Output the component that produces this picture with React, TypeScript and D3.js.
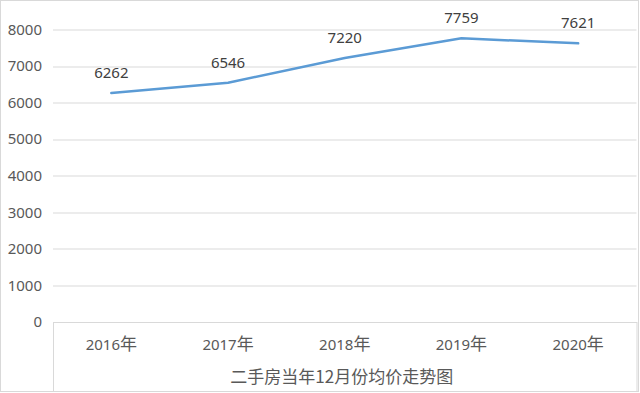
import React, { useRef, useEffect } from 'react';
import * as d3 from 'd3';

const years = ['2016', '2017', '2018', '2019', '2020'];
const yearSuffix = '年';
const prices = [6262, 6546, 7220, 7759, 7621];
const yTicks = [0, 1000, 2000, 3000, 4000, 5000, 6000, 7000, 8000];
const axisTitle = '二手房当年12月份均价走势图';

const App = () => {
  const svgRef = useRef<SVGSVGElement>(null);
  const width = 640;
  const height = 393;
  const margin = { top: 29.5, right: 3.5, bottom: 71, left: 53 };

  useEffect(() => {
    const svg = d3.select(svgRef.current);
    svg.selectAll('*').remove();

    const font = '"Noto Sans", "Noto Sans CJK SC", sans-serif';
    const cjkFont = '"Noto Sans CJK SC", sans-serif';
    const innerWidth = width - margin.left - margin.right;
    const innerHeight = height - margin.top - margin.bottom;

    // outer chart border
    svg.append('rect')
      .attr('x', 0.5).attr('y', 0.5)
      .attr('width', width - 2).attr('height', height - 2)
      .attr('fill', '#fff')
      .attr('stroke', '#d9d9d9');

    const xScale = d3.scaleBand()
      .domain(years)
      .range([0, innerWidth]);

    const yScale = d3.scaleLinear()
      .domain([0, 8000])
      .range([innerHeight, 0]);

    const g = svg.append('g')
      .attr('transform', `translate(${margin.left},${margin.top})`);

    // grid lines
    g.append('g')
      .selectAll('line')
      .data(yTicks.filter(d => d > 0))
      .join('line')
      .attr('x1', 0).attr('x2', innerWidth)
      .attr('y1', d => Math.round(yScale(d)) + 0.5)
      .attr('y2', d => Math.round(yScale(d)) + 0.5)
      .attr('stroke', '#d9d9d9')
      .attr('stroke-width', 1);

    // y tick labels
    g.append('g')
      .selectAll('text')
      .data(yTicks)
      .join('text')
      .attr('x', -11)
      .attr('y', d => yScale(d))
      .attr('dy', '0.35em')
      .attr('text-anchor', 'end')
      .attr('font-family', font)
      .attr('font-size', 15)
      .attr('fill', '#595959')
      .text(d => d);

    // data table style box under the plot
    const box = g.append('g').attr('transform', `translate(0,${innerHeight})`);
    const boxH = height - 2 - (margin.top + innerHeight);
    box.append('rect')
      .attr('x', 0.5).attr('y', 0.5)
      .attr('width', innerWidth).attr('height', boxH)
      .attr('fill', 'none')
      .attr('stroke', '#d9d9d9');

    const cat = box.selectAll('text.cat')
      .data(years)
      .join('text')
      .attr('class', 'cat')
      .attr('x', d => (xScale(d) ?? 0) + xScale.bandwidth() / 2)
      .attr('y', 28)
      .attr('text-anchor', 'middle')
      .attr('font-family', font)
      .attr('font-size', 15)
      .attr('fill', '#595959');
    cat.append('tspan').text(d => d);
    cat.append('tspan')
      .attr('font-family', cjkFont)
      .attr('font-size', 17)
      .text(yearSuffix);

    box.append('text')
      .attr('x', innerWidth / 2 - 3)
      .attr('y', 61)
      .attr('text-anchor', 'middle')
      .attr('font-family', cjkFont)
      .attr('font-size', 17)
      .attr('fill', '#595959')
      .text(axisTitle);

    const points = years.map((y, i) => ({ year: y, value: prices[i] }));
    const line = d3.line<{ year: string; value: number }>()
      .x(d => (xScale(d.year) ?? 0) + xScale.bandwidth() / 2)
      .y(d => yScale(d.value));

    g.append('path')
      .datum(points)
      .attr('fill', 'none')
      .attr('stroke', '#5b9bd5')
      .attr('stroke-width', 2.5)
      .attr('stroke-linejoin', 'round')
      .attr('stroke-linecap', 'round')
      .attr('d', line);

    // value labels
    g.append('g')
      .selectAll('text')
      .data(points)
      .join('text')
      .attr('x', d => (xScale(d.year) ?? 0) + xScale.bandwidth() / 2)
      .attr('y', d => yScale(d.value) - 15)
      .attr('text-anchor', 'middle')
      .attr('font-family', font)
      .attr('font-size', 15)
      .attr('fill', '#404040')
      .text(d => d.value);
  }, []);

  return (
    <svg
      ref={svgRef}
      width={width}
      height={height}
      style={{ position: 'absolute', left: 0, top: 0 }}
    />
  );
};

export default App;
